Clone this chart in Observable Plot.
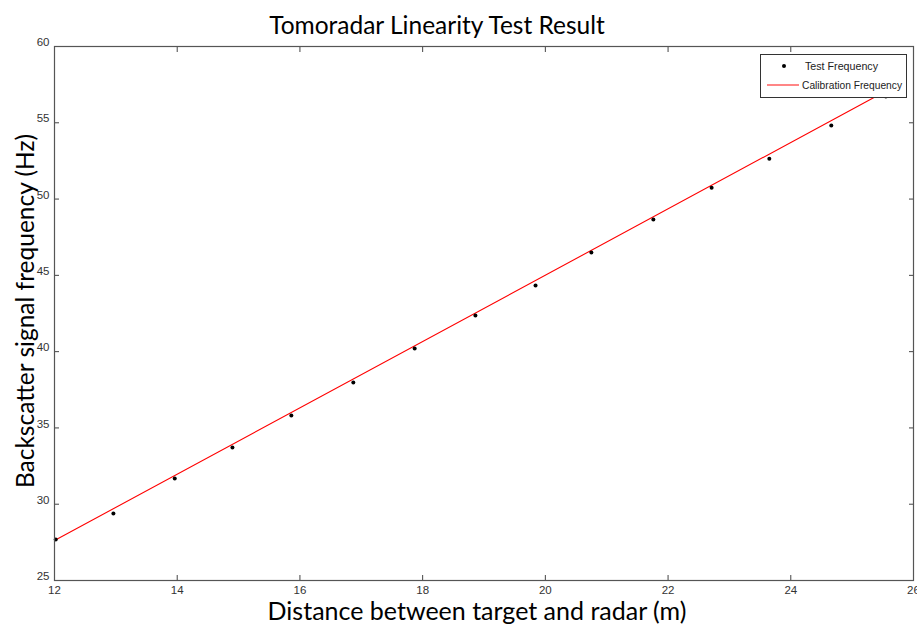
<!DOCTYPE html>
<html>
<head>
<meta charset="utf-8">
<script src="https://cdn.jsdelivr.net/npm/d3@7"></script>
<script src="https://cdn.jsdelivr.net/npm/@observablehq/plot@0.6"></script>
<style>
  body { margin: 0; background: #fff; }
  #wrap { position: relative; width: 917px; height: 626px; overflow: hidden; }
  .lbl { position: absolute; font-family: Lato, "Open Sans", sans-serif; color: #000; white-space: nowrap; line-height: 1; }
  #title { left: 0; width: 874px; top: 13px; text-align: center; font-size: 24.5px; }
  #xlabel { left: 54px; width: 846px; top: 598px; text-align: center; font-size: 25px; }
  #ylabel { left: 25px; top: 311px; font-size: 24.5px; transform: translate(-50%, -50%) rotate(-90deg); }
  #legend { position: absolute; left: 760px; top: 54px; width: 145px; height: 42px; border: 1px solid #333; background: #fff; }
</style>
</head>
<body>
<div id="wrap">
  <div id="chart"></div>
  <div class="lbl" id="title">Tomoradar Linearity Test Result</div>
  <div class="lbl" id="ylabel">Backscatter signal frequency (Hz)</div>
  <div class="lbl" id="xlabel">Distance between target and radar (m)</div>
  <div id="legend"></div>
</div>
<script>
// Data
const distance = [12.02, 12.96, 13.96, 14.90, 15.86, 16.87, 17.87, 18.86, 19.84, 20.75, 21.76, 22.71, 23.65, 24.66, 25.55];
const testFrequency = [27.69, 29.39, 31.68, 33.72, 35.81, 37.97, 40.20, 42.37, 44.33, 46.49, 48.66, 50.75, 52.65, 54.82, 56.72];
const calibDistance = [12, 25.8];
const calibFrequency = [27.62, 57.62];
const xTicks = [12, 14, 16, 18, 20, 22, 24, 26];
const yTicks = [25, 30, 35, 40, 45, 50, 55, 60];
const seriesNames = ["Test Frequency", "Calibration Frequency"];

const testData = distance.map((d, i) => ({x: d, y: testFrequency[i]}));
const calibData = calibDistance.map((d, i) => ({x: d, y: calibFrequency[i]}));

const tickFont = '"Liberation Sans Narrow", "Liberation Sans", Arial, sans-serif';
const noText = () => "";
const chart = Plot.plot({
  width: 917,
  height: 626,
  marginLeft: 54,
  marginRight: 4,
  marginTop: 46,
  marginBottom: 46,
  style: {fontFamily: tickFont, fontSize: "11.5px", color: "#333", background: "transparent"},
  x: {domain: [12, 26]},
  y: {domain: [25, 60]},
  marks: [
    Plot.axisX(xTicks, {anchor: "bottom", tickSize: 0, tickPadding: 5, label: null, fill: "#333"}),
    Plot.axisY(yTicks, {anchor: "left", tickSize: 0, tickPadding: 5, label: null, fill: "#333", dy: -4}),
    Plot.axisX(xTicks, {anchor: "bottom", tickSize: -5, tickFormat: noText, label: null, stroke: "#444"}),
    Plot.axisX(xTicks, {anchor: "top", tickSize: -5, tickFormat: noText, label: null, stroke: "#444"}),
    Plot.axisY(yTicks, {anchor: "left", tickSize: -5, tickFormat: noText, label: null, stroke: "#444"}),
    Plot.axisY(yTicks, {anchor: "right", tickSize: -5, tickFormat: noText, label: null, stroke: "#444"}),
    Plot.line(calibData, {x: "x", y: "y", stroke: "#ff0000", strokeWidth: 1.1}),
    Plot.dot(testData, {x: "x", y: "y", symbol: "circle", r: 2, fill: "#000", stroke: "none"}),
    Plot.frame({stroke: "#555", strokeWidth: 1.2})
  ]
});
document.getElementById("chart").append(chart);

// Legend
const lg = d3.select("#legend").append("svg").attr("width", 145).attr("height", 42);
lg.append("circle").attr("cx", 23).attr("cy", 11).attr("r", 2).attr("fill", "#000");
lg.append("text").attr("x", 44).attr("y", 15).text(seriesNames[0]).attr("fill", "#222")
  .attr("textLength", 73).attr("lengthAdjust", "spacingAndGlyphs")
  .style("font-family", tickFont).style("font-size", "11.5px");
lg.append("line").attr("x1", 6).attr("x2", 38).attr("y1", 30).attr("y2", 30).attr("stroke", "#ff4444").attr("stroke-width", 1.3);
lg.append("text").attr("x", 41).attr("y", 34).text(seriesNames[1]).attr("fill", "#222")
  .attr("textLength", 100).attr("lengthAdjust", "spacingAndGlyphs")
  .style("font-family", tickFont).style("font-size", "11.5px");
</script>
</body>
</html>
